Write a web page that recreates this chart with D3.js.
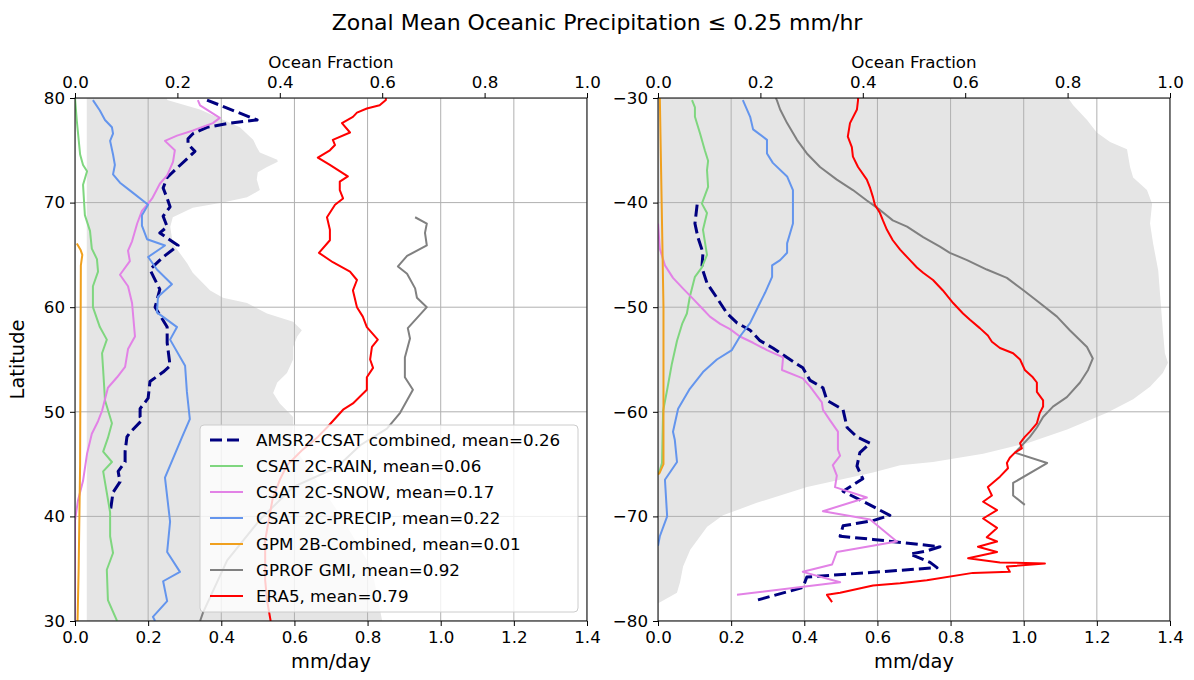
<!DOCTYPE html>
<html>
<head>
<meta charset="utf-8">
<script src="https://cdn.jsdelivr.net/npm/d3@7"></script>
<style>
body { margin: 0; background: #fff; }
svg { font-family: "DejaVu Sans", sans-serif; }
</style>
</head>
<body>
<svg id="chart" width="1194" height="680"></svg>
<script>
// values, [latitude, value]
const xTicks = [0, 0.2, 0.4, 0.6, 0.8, 1.0, 1.2, 1.4];
const fracTicks = [0, 0.2, 0.4, 0.6, 0.8, 1.0];
const nhLatTicks = [30, 40, 50, 60, 70, 80];
const shLatTicks = [-80, -70, -60, -50, -40, -30];

// ocean fraction (shaded)
const nhOcean = [[80,0.18],[79.8,0.18],[78.9,0.244],[77.2,0.322],[76.0,0.348],[75.3,0.355],[74.8,0.361],[74.1,0.395],[73.9,0.396],[73.4,0.375],[72.9,0.357],[72.2,0.355],[71.2,0.361],[70.5,0.336],[70.0,0.289],[69.5,0.230],[68.6,0.191],[67.7,0.186],[66.1,0.191],[64.2,0.219],[63.3,0.230],[61.6,0.264],[60.9,0.289],[60.4,0.336],[59.4,0.375],[58.6,0.426],[57.8,0.443],[57.2,0.434],[56.2,0.426],[55.0,0.426],[53.7,0.414],[52.8,0.395],[51.8,0.387],[50.8,0.400],[49.5,0.426],[48.5,0.426],[47.3,0.420],[45,0.45],[40,0.52],[35,0.58],[30,0.6]];
const shOcean = [[-30,0.801],[-30.7,0.811],[-32.1,0.838],[-33.3,0.857],[-34.2,0.883],[-34.9,0.916],[-36.6,0.922],[-37.6,0.928],[-38.8,0.955],[-40.1,0.965],[-42.0,0.961],[-43.9,0.967],[-46.5,0.977],[-48.4,0.980],[-52.2,0.986],[-54.4,0.990],[-55.3,0.996],[-56.3,0.986],[-57.6,0.961],[-58.8,0.928],[-60.1,0.877],[-61.7,0.799],[-63.0,0.721],[-64.0,0.635],[-64.8,0.537],[-65.1,0.473],[-65.8,0.420],[-67.2,0.291],[-68.7,0.193],[-69.9,0.127],[-71.0,0.096],[-73.2,0.063],[-74.8,0.049],[-76.3,0.043],[-77.3,0.037],[-78.2,0.004],[-78.3,0],[-80,0]];
const oceanBase = { nh: 0.023, sh: 0 };

// AMSR2-CSAT combined
const nhComb = [[79.8,0.361],[77.9,0.498],[77.6,0.424],[77.2,0.361],[76.6,0.323],[76.1,0.309],[75.6,0.309],[74.9,0.328],[73.3,0.279],[72.4,0.252],[71.4,0.241],[70.4,0.252],[69.6,0.260],[68.7,0.241],[67.7,0.252],[67.1,0.232],[65.9,0.282],[64.8,0.241],[63.6,0.205],[61.7,0.232],[60.0,0.219],[58.1,0.252],[56.6,0.252],[54.4,0.260],[53.8,0.241],[52.9,0.205],[51.3,0.200],[50.3,0.178],[49.5,0.178],[49.2,0.183],[48.0,0.150],[47.6,0.142],[46.2,0.137],[45.2,0.137],[44.3,0.118],[43.3,0.123],[42.3,0.104],[40.3,0.096]];
const shComb = [[-40.2,0.107],[-42.0,0.101],[-43.3,0.109],[-44.8,0.123],[-46.2,0.120],[-47.7,0.134],[-49.1,0.161],[-50.6,0.189],[-51.5,0.216],[-52.2,0.252],[-53.2,0.279],[-53.9,0.314],[-55.0,0.361],[-55.8,0.396],[-57.0,0.416],[-57.7,0.451],[-58.9,0.462],[-59.8,0.506],[-61.5,0.517],[-62.4,0.544],[-63.0,0.580],[-63.9,0.552],[-65.2,0.544],[-66.4,0.560],[-67.6,0.506],[-68.8,0.574],[-69.9,0.634],[-70.4,0.588],[-70.9,0.506],[-71.9,0.498],[-72.2,0.588],[-72.9,0.771],[-73.3,0.735],[-73.6,0.689],[-74.4,0.744],[-74.9,0.763],[-75.8,0.407],[-76.8,0.396],[-78.0,0.271]];

// CSAT 2C-RAIN
const nhRain = [[80,0.0],[77.8,0.005],[74.6,0.014],[73.6,0.022],[73.0,0.033],[71.7,0.022],[68.8,0.027],[67.3,0.041],[65.6,0.046],[64.6,0.060],[63.4,0.063],[62.0,0.049],[60.0,0.049],[58.1,0.068],[56.9,0.087],[55.6,0.074],[54.0,0.077],[51.1,0.082],[48.9,0.101],[47.5,0.090],[46.2,0.077],[45.2,0.101],[44.3,0.077],[40.4,0.096],[38.1,0.096],[36.5,0.104],[34.9,0.087],[32.0,0.090],[30.0,0.115]];
const shRain = [[-30.2,0.093],[-30.9,0.101],[-31.8,0.101],[-33.4,0.115],[-35.0,0.128],[-36.0,0.137],[-36.9,0.134],[-38.5,0.137],[-40.1,0.120],[-41.0,0.134],[-42.6,0.123],[-45.0,0.134],[-46.2,0.120],[-47.1,0.101],[-49.0,0.087],[-50.6,0.079],[-51.6,0.066],[-53.2,0.052],[-55.4,0.038],[-57.9,0.025],[-59.9,0.014],[-64.9,0.011],[-65.6,0.005],[-66.0,0]];

// CSAT 2C-SNOW
const nhSnow = [[79.8,0.336],[79.3,0.342],[78.1,0.396],[77.6,0.377],[76.9,0.323],[76.4,0.279],[75.9,0.246],[75.0,0.273],[73.9,0.268],[72.6,0.252],[71.8,0.232],[70.4,0.211],[69.9,0.200],[69.2,0.183],[68.0,0.170],[66.3,0.156],[65.4,0.145],[64.4,0.150],[63.1,0.123],[62.0,0.145],[60.4,0.156],[57.2,0.164],[56.0,0.145],[54.3,0.137],[53.3,0.115],[52.3,0.090],[50.1,0.074],[49.1,0.063],[47.9,0.046],[46.0,0.033],[43.4,0.022],[41.5,0.008],[39.6,0.0],[30,0.0]];
const shSnow = [[-42.0,0.0],[-44.4,0.005],[-46.0,0.019],[-47.2,0.041],[-48.2,0.068],[-49.2,0.096],[-50.2,0.123],[-50.9,0.142],[-51.6,0.170],[-52.1,0.197],[-52.8,0.224],[-53.4,0.260],[-54.1,0.298],[-54.8,0.342],[-56.0,0.339],[-56.8,0.396],[-57.6,0.416],[-59.1,0.448],[-59.8,0.451],[-60.8,0.470],[-61.9,0.492],[-63.6,0.492],[-64.2,0.498],[-65.1,0.478],[-66.1,0.489],[-67.2,0.484],[-68.2,0.571],[-69.5,0.451],[-70.3,0.580],[-72.4,0.653],[-73.4,0.489],[-74.6,0.476],[-75.3,0.396],[-76.3,0.498],[-77.5,0.216]];

// CSAT 2C-PRECIP
const nhPrecip = [[79.8,0.049],[78.8,0.068],[77.9,0.082],[77.2,0.101],[76.6,0.104],[75.9,0.096],[74.6,0.104],[73.6,0.109],[72.7,0.104],[71.9,0.123],[71.0,0.156],[69.8,0.200],[68.8,0.183],[67.8,0.183],[66.5,0.197],[65.9,0.246],[64.8,0.200],[63.6,0.224],[62.2,0.265],[61.0,0.227],[59.5,0.224],[58.1,0.279],[56.9,0.260],[54.4,0.301],[51.9,0.306],[49.3,0.314],[47.6,0.293],[43.7,0.246],[39.5,0.260],[36.6,0.252],[34.7,0.287],[33.8,0.241],[31.9,0.252],[30.4,0.213],[30.0,0.219]];
const shPrecip = [[-30.2,0.232],[-31.8,0.252],[-33.0,0.260],[-34.0,0.298],[-35.3,0.298],[-36.2,0.314],[-37.5,0.353],[-38.8,0.369],[-40.1,0.369],[-42.0,0.369],[-43.9,0.353],[-44.8,0.353],[-45.5,0.334],[-46.0,0.312],[-47.1,0.312],[-48.6,0.293],[-50.0,0.273],[-51.5,0.252],[-52.8,0.224],[-54.1,0.202],[-55.0,0.161],[-56.2,0.123],[-57.8,0.087],[-59.7,0.055],[-61.9,0.041],[-62.7,0.046],[-64.8,0.052],[-66.5,0.019],[-70.0,0.025],[-71.9,0.005],[-72.8,0]];

// GPM 2B-Combined
const nhGpm = [[66.1,0.005],[65.5,0.015],[65.0,0.02],[64.0,0.016],[55,0.015],[45,0.014],[40,0.012],[35,0.01],[30,0.007]];
const shGpm = [[-30,0.005],[-40,0.01],[-50,0.015],[-60,0.015],[-65,0.015],[-65.8,0.005],[-66,0]];

// GPROF GMI
const nhGprof = [[68.6,0.930],[68.0,0.962],[67.1,0.957],[65.9,0.962],[64.9,0.908],[63.9,0.883],[63.2,0.908],[61.8,0.930],[60.9,0.935],[60.0,0.962],[58.0,0.910],[57.0,0.916],[55.2,0.902],[53.3,0.902],[52.1,0.924],[49.9,0.889],[48.4,0.853],[46.8,0.78],[44.7,0.716],[42.8,0.596],[39.7,0.506],[35.8,0.416],[30.8,0.35],[30.0,0.342]];
const shGprof = [[-30.0,0.322],[-30.2,0.325],[-31.1,0.334],[-32.4,0.353],[-34.0,0.380],[-35.3,0.407],[-36.6,0.443],[-37.8,0.489],[-38.8,0.533],[-39.8,0.571],[-40.7,0.607],[-41.7,0.642],[-42.3,0.681],[-43.3,0.725],[-44.2,0.771],[-44.8,0.798],[-45.5,0.845],[-46.4,0.899],[-47.2,0.954],[-48.4,1.0],[-49.6,1.044],[-50.9,1.091],[-52.2,1.126],[-53.8,1.173],[-54.9,1.189],[-56.0,1.176],[-57.2,1.154],[-58.6,1.118],[-59.5,1.080],[-60.5,1.053],[-61.5,1.036],[-62.4,1.017],[-63.4,0.990],[-63.9,0.976],[-64.9,1.064],[-66.8,0.971],[-68.0,0.971],[-68.9,1.003]];

// ERA5
const nhEra5 = [[80,0.850],[79.8,0.850],[79.3,0.833],[79.0,0.798],[78.6,0.771],[78.2,0.760],[77.6,0.730],[76.7,0.752],[76.0,0.705],[75.5,0.711],[75.0,0.697],[74.3,0.664],[73.6,0.697],[72.5,0.746],[72.0,0.724],[71.2,0.724],[70.4,0.733],[69.8,0.711],[68.6,0.689],[67.4,0.697],[66.4,0.697],[65.2,0.667],[64.3,0.705],[63.4,0.752],[62.6,0.771],[61.6,0.760],[60.0,0.771],[59.1,0.787],[58.1,0.798],[56.9,0.828],[56.2,0.812],[55.0,0.807],[54.2,0.815],[53.3,0.798],[52.1,0.798],[50.8,0.760],[50.2,0.733],[48.5,0.689],[47.6,0.664],[46.3,0.62],[44.9,0.58],[43.5,0.56],[41.6,0.54],[39.7,0.53],[37.7,0.52],[35.8,0.52],[33.9,0.52],[32.0,0.525],[30.0,0.535]];
const shEra5 = [[-30.0,0.547],[-30.2,0.547],[-31.1,0.544],[-32.4,0.525],[-33.7,0.519],[-34.7,0.530],[-35.6,0.533],[-36.6,0.547],[-37.8,0.571],[-38.6,0.580],[-39.5,0.588],[-40.2,0.593],[-41.0,0.607],[-41.7,0.615],[-42.6,0.626],[-43.6,0.642],[-44.5,0.662],[-45.5,0.689],[-46.2,0.708],[-46.7,0.725],[-47.4,0.752],[-48.4,0.779],[-49.6,0.807],[-50.6,0.834],[-51.2,0.853],[-52.0,0.880],[-52.7,0.902],[-53.3,0.913],[-53.9,0.935],[-54.4,0.971],[-55.0,0.990],[-56.0,1.003],[-56.7,1.025],[-57.2,1.036],[-58.1,1.036],[-58.9,1.053],[-59.5,1.053],[-60.1,1.044],[-61.1,1.036],[-61.9,1.017],[-62.4,1.003],[-63.0,0.990],[-63.5,0.995],[-63.9,0.976],[-64.4,0.962],[-64.9,0.954],[-65.4,0.957],[-66.2,0.935],[-67.2,0.902],[-68.0,0.913],[-68.6,0.889],[-69.4,0.927],[-70.2,0.889],[-71.1,0.927],[-72.0,0.899],[-72.4,0.927],[-72.9,0.875],[-73.4,0.927],[-74.0,0.848],[-74.4,0.935],[-74.5,1.058],[-74.8,0.954],[-75.3,0.962],[-75.4,0.861],[-76.1,0.735],[-76.4,0.662],[-76.6,0.588],[-77.3,0.498],[-77.5,0.462],[-78.2,0.476]];

const series = [
  { name: "AMSR2-CSAT combined, mean=0.26", color: "#000080", width: 3, dash: "12,5", nh: nhComb, sh: shComb },
  { name: "CSAT 2C-RAIN, mean=0.06", color: "#7fd67f", width: 2, dash: null, nh: nhRain, sh: shRain },
  { name: "CSAT 2C-SNOW, mean=0.17", color: "#e282e6", width: 2, dash: null, nh: nhSnow, sh: shSnow },
  { name: "CSAT 2C-PRECIP, mean=0.22", color: "#6495ed", width: 2, dash: null, nh: nhPrecip, sh: shPrecip },
  { name: "GPM 2B-Combined, mean=0.01", color: "#f0a01e", width: 2, dash: null, nh: nhGpm, sh: shGpm },
  { name: "GPROF GMI, mean=0.92", color: "#808080", width: 2, dash: null, nh: nhGprof, sh: shGprof },
  { name: "ERA5, mean=0.79", color: "#ff0000", width: 2, dash: null, nh: nhEra5, sh: shEra5 }
];

const svg = d3.select("#chart");
const plotTop = 98, plotBottom = 621;

svg.append("text")
  .attr("x", 597).attr("y", 30)
  .attr("text-anchor", "middle")
  .attr("font-size", 22)
  .text("Zonal Mean Oceanic Precipitation \u2264  0.25 mm/hr");

function drawPanel(key, left, right, latDomain, latTicks, withLegend, withYLabel) {
  const x = d3.scaleLinear().domain([0, 1.4]).range([left, right]);
  const xf = d3.scaleLinear().domain([0, 1]).range([left, right]);
  const y = d3.scaleLinear().domain(latDomain).range([plotBottom, plotTop]);
  const g = svg.append("g");

  g.append("clipPath").attr("id", "clip-" + key)
    .append("rect").attr("x", left).attr("y", plotTop)
    .attr("width", right - left).attr("height", plotBottom - plotTop);
  const plot = g.append("g").attr("clip-path", "url(#clip-" + key + ")");

  // ocean fraction
  const ocean = key === "nh" ? nhOcean : shOcean;
  plot.append("path")
    .datum(ocean)
    .attr("fill", "#e5e5e5")
    .attr("d", d3.area()
      .y(d => y(d[0]))
      .x0(xf(oceanBase[key]))
      .x1(d => xf(d[1])));

  // grid
  plot.selectAll(".gx").data(xTicks).enter().append("line")
    .attr("x1", d => x(d)).attr("x2", d => x(d))
    .attr("y1", plotTop).attr("y2", plotBottom)
    .attr("stroke", "#b0b0b0").attr("stroke-width", 1);
  plot.selectAll(".gy").data(latTicks).enter().append("line")
    .attr("x1", left).attr("x2", right)
    .attr("y1", d => y(d)).attr("y2", d => y(d))
    .attr("stroke", "#b0b0b0").attr("stroke-width", 1);

  const line = d3.line().x(d => x(d[1])).y(d => y(d[0]));
  series.forEach(s => {
    plot.append("path")
      .datum(s[key])
      .attr("fill", "none")
      .attr("stroke", s.color)
      .attr("stroke-width", s.width)
      .attr("stroke-dasharray", s.dash)
      .attr("stroke-linejoin", "round")
      .attr("d", line);
  });

  // axes
  const ax = g.append("g").attr("transform", `translate(0,${plotBottom})`)
    .call(d3.axisBottom(x).tickValues(xTicks).tickFormat(d3.format(".1f")).tickSize(5).tickPadding(5));
  const axTop = g.append("g").attr("transform", `translate(0,${plotTop})`)
    .call(d3.axisTop(xf).tickValues(fracTicks).tickFormat(d3.format(".1f")).tickSize(5).tickPadding(5));
  const ay = g.append("g").attr("transform", `translate(${left},0)`)
    .call(d3.axisLeft(y).tickValues(latTicks).tickFormat(d3.format("d")).tickSize(5).tickPadding(5));
  [ax, axTop, ay].forEach(a => {
    a.select(".domain").remove();
    a.selectAll("text").attr("font-size", 16.7).attr("fill", "#000").attr("font-family", "DejaVu Sans");
    a.selectAll("line").attr("stroke", "#000");
  });

  g.append("rect").attr("x", left).attr("y", plotTop)
    .attr("width", right - left).attr("height", plotBottom - plotTop)
    .attr("fill", "none").attr("stroke", "#000").attr("stroke-width", 1);

  g.append("text").attr("x", (left + right) / 2).attr("y", 668)
    .attr("text-anchor", "middle").attr("font-size", 19.4).text("mm/day");
  g.append("text").attr("x", (left + right) / 2).attr("y", 68)
    .attr("text-anchor", "middle").attr("font-size", 16.7).text("Ocean Fraction");
  if (withYLabel) {
    g.append("text")
      .attr("transform", `translate(24,${(plotTop + plotBottom) / 2}) rotate(-90)`)
      .attr("text-anchor", "middle").attr("font-size", 19.4).text("Latitude");
  }

  if (withLegend) {
    const lg = g.append("g").attr("transform", "translate(200,425)");
    lg.append("rect").attr("width", 378).attr("height", 187)
      .attr("rx", 4).attr("fill", "#fff").attr("fill-opacity", 0.8)
      .attr("stroke", "#cccccc").attr("stroke-width", 1);
    series.forEach((s, i) => {
      const cy = 15 + i * 26;
      lg.append("line").attr("x1", 10).attr("x2", 43).attr("y1", cy).attr("y2", cy)
        .attr("stroke", s.color).attr("stroke-width", s.width)
        .attr("stroke-dasharray", s.dash);
      lg.append("text").attr("x", 56).attr("y", cy).attr("dy", "0.35em")
        .attr("font-size", 16.7).text(s.name);
    });
  }
}

drawPanel("nh", 75, 587, [30, 80], nhLatTicks, true, true);
drawPanel("sh", 658, 1170, [-80, -30], shLatTicks, false, false);
</script>
</body>
</html>
